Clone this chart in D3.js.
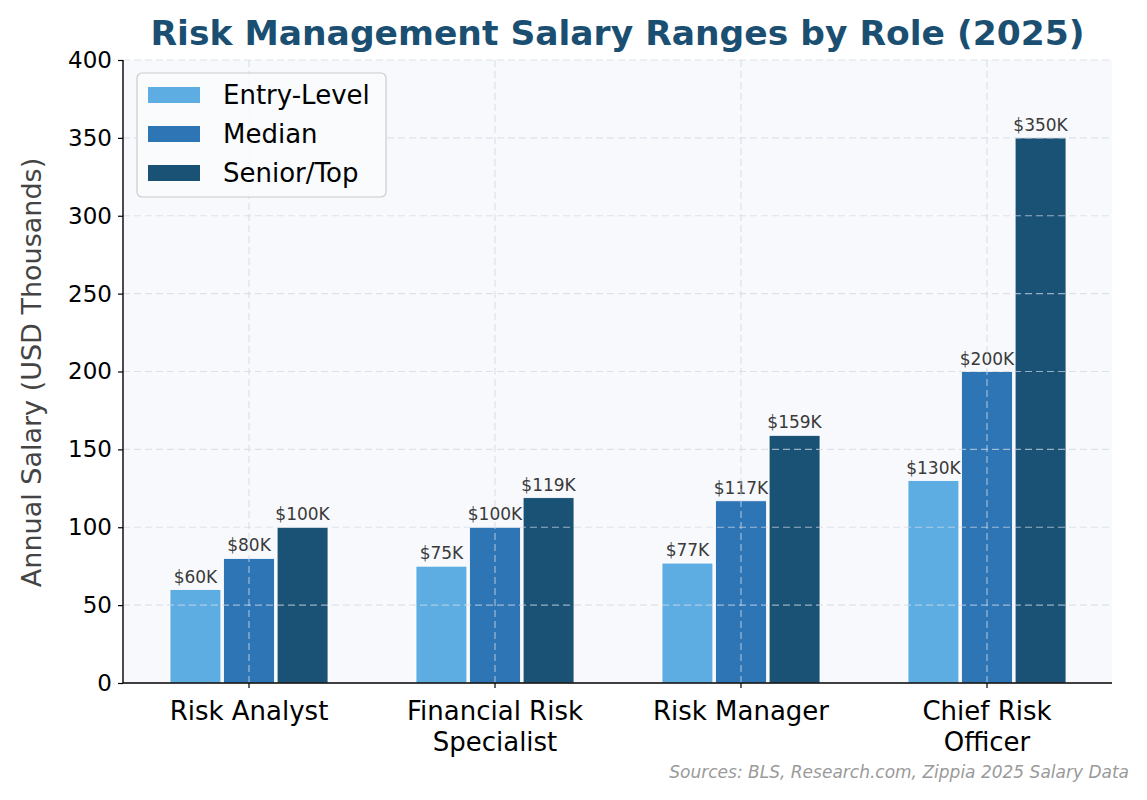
<!DOCTYPE html>
<html>
<head>
<meta charset="utf-8">
<script src="https://cdn.jsdelivr.net/npm/d3@7"></script>
<style>
  body { margin: 0; background: #fff; }
  text { font-family: "DejaVu Sans", sans-serif; }
</style>
</head>
<body>
<script>
// 画布
var width = 1147;
var height = 800;
const margin = {left: 123, right: 35, top: 60, bottom: 117};
const innerWidth = width - margin.left - margin.right;
const innerHeight = height - margin.top - margin.bottom;

// 数据
var roles = ["Risk Analyst", "Financial Risk\nSpecialist", "Risk Manager", "Chief Risk\nOfficer"];
var series = ["Entry-Level", "Median", "Senior/Top"];
var entryLevel = [60, 75, 77, 130];
var median = [80, 100, 117, 200];
var seniorTop = [100, 119, 159, 350];
var yTicks = [0, 50, 100, 150, 200, 250, 300, 350, 400];
var colors = ["#5dade2", "#2e75b6", "#1a5276"];

var values = [entryLevel, median, seniorTop];

var svg = d3.select("body").append("svg")
  .attr("width", width)
  .attr("height", height);

const g = svg.append("g").attr("transform", `translate(${margin.left},${margin.top})`);

// 比例尺
var x0 = d3.scaleBand()
  .domain(roles)
  .range([3, innerWidth - 2])
  .padding(0);

var groupW = 158;
var x1 = d3.scaleBand()
  .domain(series)
  .range([0, groupW])
  .paddingInner(0.05);

var yScale = d3.scaleLinear()
  .domain([0, 400])
  .range([innerHeight, 0]);

var cx = d => x0(d) + x0.bandwidth() / 2;

// 背景
g.append("rect")
  .attr("width", innerWidth)
  .attr("height", innerHeight)
  .attr("fill", "#f8f9fc");

// 柱子
series.forEach(function (s, si) {
  g.selectAll(".bar" + si)
    .data(roles)
    .enter()
    .append("rect")
    .attr("x", (d) => cx(d) - groupW / 2 + x1(s))
    .attr("y", (d, i) => yScale(values[si][i]))
    .attr("width", x1.bandwidth())
    .attr("height", (d, i) => innerHeight - yScale(values[si][i]))
    .attr("fill", colors[si])
    .attr("stroke", "#ffffff")
    .attr("stroke-width", 0.8);

  g.selectAll(".lbl" + si)
    .data(roles)
    .enter()
    .append("text")
    .attr("x", (d) => cx(d) - groupW / 2 + x1(s) + x1.bandwidth() / 2)
    .attr("y", (d, i) => yScale(values[si][i]) - 7)
    .attr("text-anchor", "middle")
    .attr("font-size", 17)
    .attr("fill", "#3a3a3a")
    .text((d, i) => "$" + values[si][i] + "K");
});

// 网格线 (画在柱子上面)
g.append("g")
  .selectAll("line")
  .data(yTicks.slice(1))
  .enter()
  .append("line")
  .attr("x1", 0).attr("x2", innerWidth)
  .attr("y1", d => yScale(d)).attr("y2", d => yScale(d))
  .attr("stroke", "#d0d9e4")
  .attr("stroke-opacity", 0.7)
  .attr("stroke-dasharray", "7,4")
  .attr("stroke-width", 1.2);

g.append("g")
  .selectAll("line")
  .data(roles)
  .enter()
  .append("line")
  .attr("x1", cx).attr("x2", cx)
  .attr("y1", 0).attr("y2", innerHeight)
  .attr("stroke", "#d0d9e4")
  .attr("stroke-opacity", 0.7)
  .attr("stroke-dasharray", "7,4")
  .attr("stroke-width", 1.2);

// y轴
var yAxis = d3.axisLeft(yScale).tickValues(yTicks).tickSize(5).tickPadding(6);
var gy = g.append("g").call(yAxis);
gy.selectAll("text").attr("font-size", 23).attr("fill", "#000");
gy.selectAll("line").attr("stroke", "#000").attr("stroke-width", 1.2);
gy.select(".domain").attr("stroke", "#000").attr("stroke-width", 1.4).attr("d", `M0,0V${innerHeight}`);

// x轴
var xAxis = d3.axisBottom(x0).tickSize(5).tickPadding(5);
var gx = g.append("g").attr("transform", `translate(0,${innerHeight})`).call(xAxis);
gx.selectAll("line").attr("stroke", "#000").attr("stroke-width", 1.2);
gx.select(".domain").attr("stroke", "#000").attr("stroke-width", 1.4).attr("d", `M0,0H${innerWidth}`);
gx.selectAll("text").remove();
gx.selectAll(".tick").each(function (d) {
  var t = d3.select(this).append("text")
    .attr("text-anchor", "middle")
    .attr("font-size", 26)
    .attr("fill", "#000")
    .attr("y", 37);
  d.split("\n").forEach(function (line, i) {
    t.append("tspan").attr("x", 0).attr("dy", i === 0 ? 0 : 31).text(line);
  });
});

// y轴标题
svg.append("text")
  .attr("transform", `translate(41,${margin.top + innerHeight / 2 + 1}) rotate(-90)`)
  .attr("text-anchor", "middle")
  .attr("font-size", 27)
  .attr("fill", "#444")
  .text("Annual Salary (USD Thousands)");

// 标题
svg.append("text")
  .attr("x", margin.left + innerWidth / 2)
  .attr("y", 45)
  .attr("text-anchor", "middle")
  .attr("font-size", 34.5)
  .attr("font-weight", "bold")
  .attr("fill", "#1b4f72")
  .text("Risk Management Salary Ranges by Role (2025)");

// 图例
var legend = g.append("g").attr("transform", "translate(14,13)");
legend.append("rect")
  .attr("width", 249).attr("height", 124)
  .attr("rx", 5)
  .attr("fill", "#fafbfd")
  .attr("fill-opacity", 0.9)
  .attr("stroke", "#cccccc")
  .attr("stroke-width", 1.2);
series.forEach(function (s, i) {
  legend.append("rect")
    .attr("x", 11).attr("y", 14 + i * 39)
    .attr("width", 52).attr("height", 16)
    .attr("fill", colors[i]);
  legend.append("text")
    .attr("x", 86).attr("y", 31 + i * 39)
    .attr("font-size", 26)
    .attr("fill", "#000")
    .text(s);
});

// 来源
svg.append("text")
  .attr("x", 1129)
  .attr("y", 778)
  .attr("text-anchor", "end")
  .attr("font-size", 17)
  .attr("font-style", "italic")
  .attr("fill", "#9a9a9a")
  .text("Sources: BLS, Research.com, Zippia 2025 Salary Data");
</script>
</body>
</html>
